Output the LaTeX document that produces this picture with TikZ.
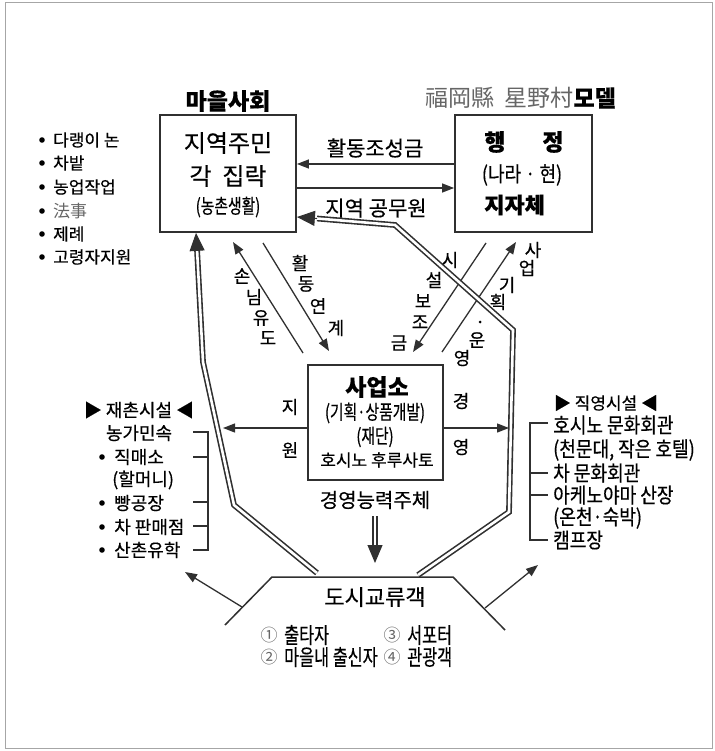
\documentclass[tikz,border=0pt]{standalone}
\usepackage{fontspec}
\usetikzlibrary{arrows.meta}
\newfontfamily\krA{Noto Sans CJK KR}[FakeBold=0.4]
\newfontfamily\krB{Noto Sans CJK KR}[FakeStretch=0.86,FakeBold=0.4]
\newfontfamily\krC{Noto Sans CJK KR}[FakeStretch=0.74,FakeBold=0.4]
\newfontfamily\krL{Noto Sans CJK KR}
\newcommand\fsz[1]{\fontsize{#1}{#1}\selectfont}
\definecolor{dk}{HTML}{303030}
\definecolor{gr}{HTML}{666666}
\tikzset{
  box/.style={draw=dk, line width=1.8pt, inner sep=0pt},
  txt/.style={inner sep=0pt, text=black},
  arr/.style={draw=dk, line width=1.3pt, -{Triangle[length=12pt,width=9pt]}},
  ln/.style={draw=dk, line width=1.3pt},
  dbl/.style={draw=dk, line width=1.6pt, double=white, double distance=2.6pt, line join=miter},
  bigtip/.style={draw=dk, fill=dk, line width=1pt, -{Triangle[length=18pt,width=15pt]}},
  bul/.style={fill=black},
}
\begin{document}
\begin{tikzpicture}[x=1pt,y=-1pt]
\useasboundingbox (0,0) rectangle (714,751);
\draw[gray!70, line width=1pt] (5,3) rectangle (712,748);

% boxes
\node[box, minimum width=136pt, minimum height=117pt] (b1) at (228,173.5) {};
\node[box, minimum width=137pt, minimum height=117pt] (b2) at (523.5,173.5) {};
\node[box, minimum width=135pt, minimum height=115pt] (b3) at (375.5,422.5) {};

% titles
\node[txt, font=\krA\bfseries\fsz{23}] (t1) at (228,101) {마을사회};
\node[txt, anchor=west, font=\krL\fsz{23}] (t2) at (425,98) {\textcolor{gr}{福岡縣\ \ 星野村}{\krA\bfseries 모델}};

% box1 text
\node[txt, font=\krA\fsz{24}] (b1a) at (228,143) {지역주민};
\node[txt, font=\krA\fsz{24}] (b1b) at (228,176) {각\ \ 집락};
\node[txt, font=\krC\fsz{20}] (b1c) at (228,207) {(농촌생활)};

% box2 text
\node[txt, font=\krA\bfseries\fsz{23}] (b2a) at (495,142) {행};
\node[txt, font=\krA\bfseries\fsz{23}] (b2b) at (553,142) {정};
\node[txt, font=\krB\fsz{21}] (b2c) at (522,175) {(나라 · 현)};
\node[txt, anchor=west, font=\krA\bfseries\fsz{22}] (b2d) at (484,205) {지자체};

% box3 text
\node[txt, font=\krA\bfseries\fsz{23}] (b3a) at (377,387) {사업소};
\node[txt, font=\krC\fsz{20}] (b3b) at (375,413) {(기획·상품개발)};
\node[txt, font=\krC\fsz{20}] (b3c) at (375,437) {(재단)};
\node[txt, font=\krA\fsz{17}] (b3d) at (377,460) {호시노\ 후루사토};
\node[txt, font=\krA\fsz{20}] (b3e) at (375,500) {경영능력주체};

% arrows between b1 and b2
\coordinate (yA) at (0,164);
\coordinate (yB) at (0,188);
\draw[arr] (b2.west |- yA) -- (b1.east |- yA);
\draw[arr] (b1.east |- yB) -- (b2.west |- yB);
\node[txt, font=\krA\fsz{21}] (l1) at (375,148) {활동조성금};
\node[txt, font=\krA\fsz{21}] (l2) at (376,208) {지역\ 공무원};

% left list
\begin{scope}[font=\krA\fsz{17}]
\node[txt, anchor=west] (p1) at (53,140) {다랭이\ 논};
\node[txt, anchor=west] (p2) at (53,163) {차밭};
\node[txt, anchor=west] (p3) at (53,187) {농업작업};
\node[txt, anchor=west, font=\krL\fsz{17}, text=gr] (p4) at (53,211) {法事};
\node[txt, anchor=west] (p5) at (53,234) {제례};
\node[txt, anchor=west] (p6) at (53,257) {고령자지원};
\end{scope}
\foreach \yy in {140,163,187,211,234,257} \fill[bul] (42,\yy) circle (2.8);

% diagonal arrows
\coordinate (d1s) at (303,353); \coordinate (d1e) at (233,242);
\coordinate (d2s) at (263,243); \coordinate (d2e) at (329,351);
\coordinate (d3s) at (486,243); \coordinate (d3e) at (413,352);
\coordinate (d4s) at (442,352); \coordinate (d4e) at (516,242);
\draw[arr] (d1s) -- (d1e);
\draw[arr] (d2s) -- (d2e);
\draw[arr] (d3s) -- (d3e);
\draw[arr] (d4s) -- (d4e);

\begin{scope}[font=\krA\fsz{18}]
\node[txt] (v1) at (242,276) {손};
\node[txt] (v2) at (254,297) {님};
\node[txt] (v3) at (261,318) {유};
\node[txt] (v4) at (268,338) {도};
\node[txt] (w1) at (300,263) {활};
\node[txt] (w2) at (306,284) {동};
\node[txt] (w3) at (318,306) {연};
\node[txt] (w4) at (336,328) {계};
\node[txt] (s1) at (450,260) {시};
\node[txt] (s2) at (434,280) {설};
\node[txt] (s3) at (423,301) {보};
\node[txt] (s4) at (420,322) {조};
\node[txt] (s5) at (399,343) {금};
\node[txt] (u1) at (533,250) {사};
\node[txt] (u2) at (527,268) {업};
\node[txt] (u3) at (507,285) {기};
\node[txt] (u4) at (498,302) {획};
\node[txt] (u6) at (477,340) {운};
\node[txt] (u7) at (462,358) {영};
\node[txt] (k1) at (290,407) {지};
\node[txt] (k2) at (290,450) {원};
\node[txt] (k3) at (461,401) {경};
\node[txt] (k4) at (461,447) {영};
\end{scope}
\fill[bul] (480,322) circle (1.5);

% double paths
\coordinate (L0) at (317,573);
\coordinate (L1) at (234,505);
\coordinate (L2) at (203,362);
\coordinate (L3) at (197,249);
\coordinate (Lt) at (b1.south -| 196,0);
\draw[dbl] (L0) -- (L1) -- (L2) -- (L3);
\draw[bigtip] (L3) -- (Lt);

\coordinate (R0) at (418,575);
\coordinate (R1) at (509,512);
\coordinate (R2) at (513,330);
\coordinate (R3) at (395,225);
\coordinate (R4) at (317,218.5);
\coordinate (Rt) at (b1.east |- 0,217);
\draw[dbl] (R0) -- (R1) -- (R2) -- (R3) -- (R4);
\draw[bigtip] (R4) -- (Rt);

\coordinate (D1) at (375,545);
\coordinate (Dt) at (375,563);
\draw[dbl] (b3e.south |- 0,516) -- (D1);
\draw[bigtip] (D1) -- (Dt);

% support / management arrows
\coordinate (yC) at (0,428);
\coordinate (xL) at (223,0);
\coordinate (xR) at (509,0);
\draw[arr] (b3.west |- yC) -- (xL |- yC);
\draw[arr] (b3.east |- yC) -- (xR |- yC);

% left facility list
\node[txt, font=\krA\fsz{18}] (fl) at (139,410) {▶\ 재촌시설\ ◀};
\begin{scope}[font=\krA\fsz{18}]
\node[txt] (f1) at (139,433) {농가민속};
\node[txt, anchor=west] (f2) at (114,457) {직매소};
\node[txt, anchor=west] (f3) at (112,480) {(할머니)};
\node[txt, anchor=west] (f4) at (114,503) {빵공장};
\node[txt, anchor=west] (f5) at (114,527) {차\ 판매점};
\node[txt, anchor=west] (f6) at (114,550) {산촌유학};
\end{scope}
\foreach \yy in {457,503,527,550} \fill[bul] (102,\yy) circle (2.8);
\draw[ln, line width=1.2pt] (193,432) -- (208,432) -- (208,550) -- (193,550);
\draw[ln, line width=1.2pt] (193,457) -- (208,457);
\draw[ln, line width=1.2pt] (193,502) -- (208,502);
\draw[ln, line width=1.2pt] (193,526) -- (208,526);

% right facility list
\node[txt, font=\krA\fsz{17}] (fr) at (606,403) {▶\ 직영시설\ ◀};
\begin{scope}[font=\krB\fsz{21}]
\node[txt, anchor=west] (g1) at (553,425) {호시노\ 문화회관};
\node[txt, anchor=west] (g2) at (553,450) {(천문대,\ 작은\ 호텔)};
\node[txt, anchor=west] (g3) at (553,473) {차\ 문화회관};
\node[txt, anchor=west] (g4) at (553,495) {아케노야마\ 산장};
\node[txt, anchor=west] (g5) at (553,518) {(온천·숙박)};
\node[txt, anchor=west] (g6) at (553,540) {캠프장};
\end{scope}
\draw[ln, line width=1.2pt] (548,423) -- (530,423) -- (530,540) -- (548,540);
\draw[ln, line width=1.2pt] (530,473) -- (548,473);
\draw[ln, line width=1.2pt] (530,495) -- (548,495);

% trapezoid
\coordinate (T0) at (225,625);
\coordinate (T1) at (272,577);
\coordinate (T2) at (453,577);
\coordinate (T3) at (505,630);
\draw[ln, line width=1.5pt] (T0) -- (T1) -- (T2) -- (T3);
\draw[arr] (242,607) -- (185,572);
\draw[arr] (485,608) -- (538,565);

\node[txt, font=\krA\fsz{22}] (c0) at (375,597) {도시교류객};
\begin{scope}[font=\krC\fsz{22}]
\node[txt, text=gr, font=\krL\fsz{17}] (n1) at (269,635) {①};
\node[txt, text=gr, font=\krL\fsz{17}] (n2) at (269,657) {②};
\node[txt, text=gr, font=\krL\fsz{17}] (n3) at (392,635) {③};
\node[txt, text=gr, font=\krL\fsz{17}] (n4) at (392,657) {④};
\node[txt, anchor=west] (c1) at (284,635) {출타자};
\node[txt, anchor=west] (c2) at (284,657) {마을내\ 출신자};
\node[txt, anchor=west] (c3) at (407,635) {서포터};
\node[txt, anchor=west] (c4) at (407,657) {관광객};
\end{scope}
\end{tikzpicture}
\end{document}
